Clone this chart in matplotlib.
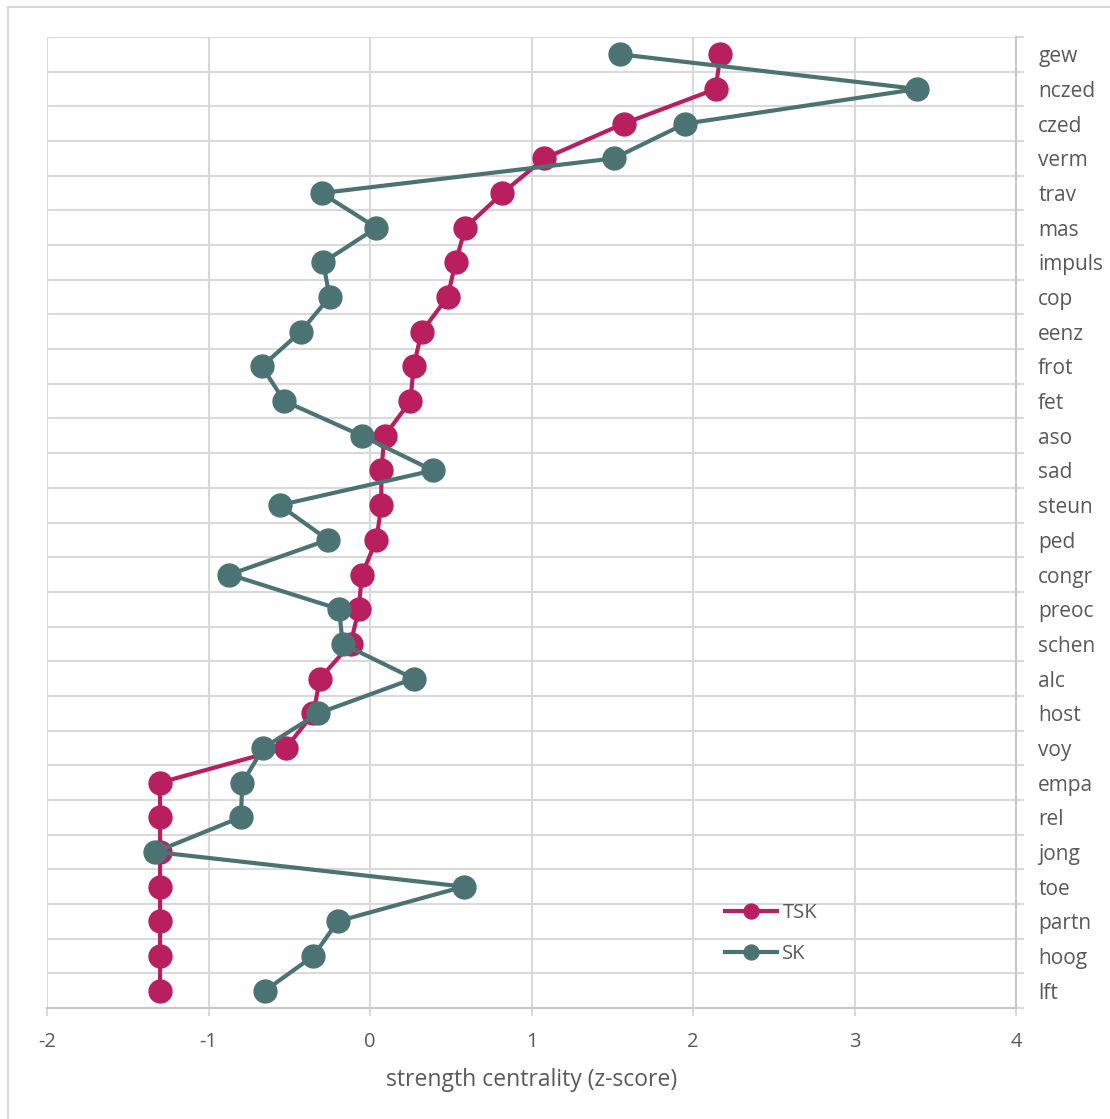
import matplotlib
matplotlib.use('Agg')
import matplotlib.pyplot as plt
from matplotlib.patches import Rectangle
import numpy as np

plt.rcParams['font.family'] = ['Open Sans', 'DejaVu Sans']

# Items, top to bottom as they appear on the right axis
items = ["gew", "nczed", "czed", "verm", "trav", "mas", "impuls", "cop", "eenz",
         "frot", "fet", "aso", "sad", "steun", "ped", "congr", "preoc", "schen",
         "alc", "host", "voy", "empa", "rel", "jong", "toe", "partn", "hoog", "lft"]

# strength centrality z-scores
tsk = [2.17, 2.14, 1.57, 1.08, 0.82, 0.59, 0.53, 0.48, 0.32,
       0.27, 0.25, 0.09, 0.07, 0.07, 0.04, -0.05, -0.07, -0.12,
       -0.31, -0.35, -0.52, -1.30, -1.30, -1.30, -1.30, -1.30, -1.30, -1.30]
sk = [1.55, 3.39, 1.95, 1.51, -0.30, 0.04, -0.29, -0.25, -0.43,
      -0.67, -0.53, -0.05, 0.39, -0.56, -0.26, -0.87, -0.19, -0.17,
      0.27, -0.32, -0.66, -0.79, -0.80, -1.33, 0.58, -0.20, -0.35, -0.65]

TSK_COL = "#B91E5F"
SK_COL = "#4C7374"
GRID = "#D9D9D9"
TXT = "#595959"

fig = plt.figure(figsize=(11.10, 11.19), dpi=100)
# outer chart-area border (only left/top visible in the crop)
fig.patches.append(Rectangle((8/1110, -0.1), 1.2, 1 - 7/1119 + 0.1,
                             transform=fig.transFigure, fill=False,
                             edgecolor=GRID, linewidth=1.5))

ax = fig.add_axes([47/1110, 1 - 1008/1119, (1016-47)/1110, (1008-37)/1119])

y = np.arange(len(items))
ax.plot(tsk, y, color=TSK_COL, lw=3, marker='o', ms=16.5, label="TSK", zorder=3)
ax.plot(sk, y, color=SK_COL, lw=3, marker='o', ms=16.5, label="SK", zorder=4)

ax.set_xlim(-2, 4)
ax.set_ylim(len(items) - 0.5, -0.5)
ax.set_xticks(np.arange(-2, 5, 1))
ax.set_xticklabels([str(v) for v in range(-2, 5)])

ax.yaxis.tick_right()
ax.set_yticks(y)
ax.set_yticklabels(items)
ax.set_yticks(np.arange(-0.5, len(items)), minor=True)
ax.tick_params(axis='y', which='major', length=0, pad=16, labelsize=15, labelcolor=TXT)
ax.tick_params(axis='y', which='minor', length=6, width=1.5, color=GRID)
ax.tick_params(axis='x', which='major', length=6, width=1.5, color=GRID,
               labelsize=14.5, labelcolor=TXT, pad=11)

ax.grid(True, axis='x', which='major', color=GRID, lw=1.5, zorder=0)
ax.grid(True, axis='y', which='minor', color=GRID, lw=1.5, zorder=0)
ax.set_axisbelow(True)

for side in ['left', 'top']:
    ax.spines[side].set_visible(False)
for side in ['right', 'bottom']:
    ax.spines[side].set_color("#C8C8C8")
    ax.spines[side].set_linewidth(1.5)

ax.set_xlabel("strength centrality (z-score)", fontsize=16.5, color=TXT, labelpad=12)

leg = ax.legend(loc='upper left', bbox_to_anchor=(0.6997, 0.108), frameon=False,
                fontsize=14.5, handlelength=2.6, handletextpad=0.25,
                labelspacing=1.05, borderpad=0, borderaxespad=0, markerscale=0.65)
for t in leg.get_texts():
    t.set_color(TXT)

fig.savefig("out.png", dpi=100)
